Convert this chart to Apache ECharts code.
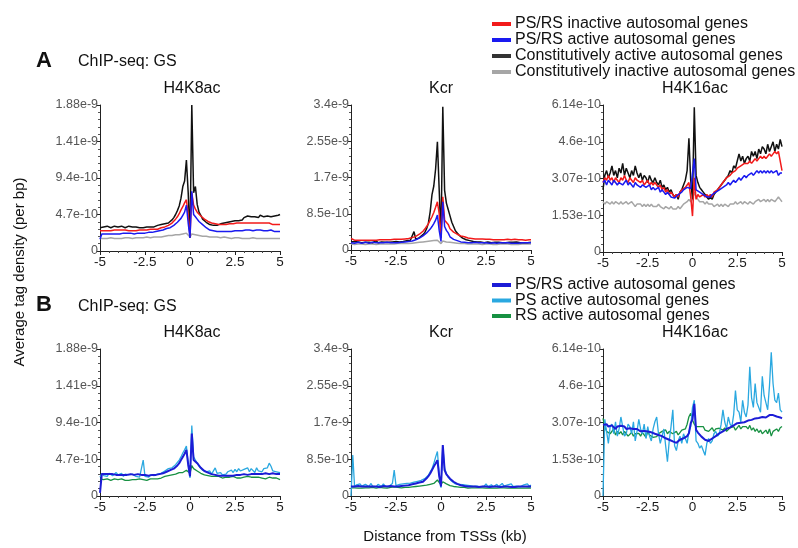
<!DOCTYPE html>
<html><head><meta charset="utf-8">
<script src="https://cdn.jsdelivr.net/npm/echarts@6/dist/echarts.min.js"></script>
<style>html,body{margin:0;padding:0;background:#fff}#c{width:798px;height:548px}</style>
</head><body><div id="c"></div>
<script>
// Distance from TSS (kb)
const X = [-5,-4.9,-4.8,-4.7,-4.6,-4.5,-4.4,-4.3,-4.2,-4.1,
-4,-3.9,-3.8,-3.7,-3.6,-3.5,-3.4,-3.3,-3.2,-3.1,
-3,-2.9,-2.8,-2.7,-2.6,-2.5,-2.4,-2.3,-2.2,-2.1,
-2,-1.9,-1.8,-1.7,-1.6,-1.5,-1.4,-1.3,-1.2,-1.1,
-1,-0.9,-0.8,-0.7,-0.6,-0.5,-0.4,-0.3,-0.2,-0.1,
0,0.1,0.2,0.3,0.4,0.5,0.6,0.7,0.8,0.9,
1,1.1,1.2,1.3,1.4,1.5,1.6,1.7,1.8,1.9,
2,2.1,2.2,2.3,2.4,2.5,2.6,2.7,2.8,2.9,
3,3.1,3.2,3.3,3.4,3.5,3.6,3.7,3.8,3.9,
4,4.1,4.2,4.3,4.4,4.5,4.6,4.7,4.8,4.9,5];
const xTickLabels = ['-5','-2.5','0','2.5','5'];
// Values in units of 1e-10 tags per bp
const ticksH4K8ac = ['0','4.7e-10','9.4e-10','1.41e-9','1.88e-9'];
const ticksKcr = ['0','8.5e-10','1.7e-9','2.55e-9','3.4e-9'];
const ticksH4K16ac = ['0','1.53e-10','3.07e-10','4.6e-10','6.14e-10'];

// ---- Panel A: H4K8ac ----
const A1_inactive = [2.6,2.7,2.6,2.7,2.6,2.7,2.6,2.6,2.7,2.6, 2.7,2.6,2.7,2.6,2.7,2.7,2.6,2.7,2.6,2.7, 2.6,2.7,2.7,2.6,2.7,2.8,2.7,2.7,2.8,2.7, 2.8,2.9,2.8,2.9,3.0,3.0,3.1,3.2,3.3,3.4, 3.6,3.8,4.1,4.4,4.8,5.3,5.7,6.2,6.6,4.6, 1.8,7.5,5.9,5.4,5.0,4.8,4.5,4.3,4.1,4.0, 3.8,3.7,3.6,3.5,3.5,3.4,3.4,3.3,3.4,3.3, 3.4,3.4,3.5,3.4,3.5,3.5,3.6,3.5,3.6,3.6, 3.6,3.7,3.6,3.7,3.6,3.7,3.6,3.7,3.6,3.5, 3.6,3.5,3.6,3.5,3.6,3.5,3.4,3.5,3.4,3.5, 3.4];
const A1_active = [1.5,2.2,2.3,2.2,2.3,2.2,2.3,2.2,2.3,2.2, 2.3,2.2,2.3,2.3,2.2,2.3,2.2,2.3,2.3,2.2, 2.3,2.3,2.4,2.3,2.4,2.3,2.4,2.4,2.5,2.4, 2.5,2.5,2.6,2.6,2.7,2.7,2.8,2.9,3.0,3.0, 3.1,3.3,3.5,3.7,3.9,4.2,4.6,5.0,5.9,3.6, 1.7,7.7,4.7,4.4,4.1,3.8,3.6,3.4,3.2,3.0, 2.8,2.7,2.7,2.6,2.6,2.5,2.5,2.5,2.4,2.5, 2.5,2.5,2.6,2.5,2.6,2.6,2.7,2.6,2.7,2.6, 2.7,2.7,2.6,2.7,2.7,2.6,2.7,2.7,2.6,2.7, 2.7,2.6,2.7,2.6,2.6,2.7,2.6,2.5,2.6,2.5, 2.5];
const A1_constActive = [3.0,3.2,3.1,3.0,3.2,3.1,3.0,3.1,3.2,3.0, 3.1,3.0,3.2,3.1,3.0,3.1,3.2,3.0,3.1,3.0, 3.1,3.2,3.0,3.1,3.0,3.2,3.1,3.0,3.1,3.2, 3.1,3.2,3.3,3.2,3.4,3.3,3.5,3.4,3.6,3.8, 4.0,4.3,4.7,5.2,5.8,6.8,8.3,9.0,11.7,7.5, 1.7,18.8,7.5,8.3,6.0,5.0,4.6,4.1,3.9,3.7, 3.5,3.4,3.5,3.3,3.4,3.3,3.4,3.5,3.4,3.6, 3.8,3.7,3.9,3.8,4.0,3.9,4.0,3.9,4.1,4.0, 4.3,4.2,4.5,4.3,4.4,4.6,4.4,4.5,4.3,4.6, 4.5,4.4,4.6,4.5,4.7,4.4,4.6,4.5,4.7,4.6, 4.7];
const A1_constInactive = [1.6,1.6,1.6,1.7,1.6,1.6,1.7,1.6,1.6,1.7, 1.6,1.7,1.6,1.7,1.7,1.6,1.7,1.7,1.6,1.7, 1.7,1.7,1.7,1.6,1.7,1.7,1.8,1.7,1.7,1.8, 1.8,1.8,1.8,1.9,1.8,1.9,1.9,1.9,2.0,1.9, 2.0,2.0,2.1,2.1,2.1,2.2,2.2,2.3,2.3,2.1, 1.8,2.2,2.2,2.1,2.1,2.0,2.0,1.9,1.9,1.9, 1.8,1.8,1.8,1.8,1.7,1.8,1.7,1.7,1.7,1.8, 1.7,1.7,1.7,1.6,1.7,1.7,1.6,1.7,1.7,1.6, 1.7,1.6,1.7,1.6,1.6,1.7,1.6,1.6,1.7,1.6, 1.6,1.6,1.7,1.6,1.6,1.6,1.7,1.6,1.6,1.6, 1.6];

// ---- Panel A: Kcr ----
const A2_inactive = [2.7,2.4,2.3,2.4,2.3,2.4,2.3,2.4,2.3,2.4, 2.3,2.4,2.3,2.4,2.3,2.4,2.4,2.3,2.4,2.4, 2.4,2.3,2.4,2.4,2.5,2.4,2.5,2.4,2.5,2.5, 2.6,2.6,2.7,2.8,2.9,3.0,3.2,3.4,3.7,4.0, 4.4,4.9,5.5,6.2,7.0,7.8,8.8,10.0,11.3,8.5, 2.8,12.5,7.0,6.6,6.0,5.0,4.6,4.2,3.9,3.7, 3.5,3.3,3.2,3.1,3.0,2.8,2.8,2.7,2.7,2.6, 2.6,2.6,2.5,2.6,2.5,2.5,2.6,2.5,2.5,2.4, 2.5,2.4,2.5,2.4,2.5,2.4,2.4,2.5,2.4,2.4, 2.4,2.5,2.4,2.4,2.3,2.4,2.4,2.3,2.4,2.4, 2.4];
const A2_active = [1.7,1.8,1.6,1.7,1.8,1.7,1.6,1.7,1.8,1.7, 1.6,1.7,1.8,1.7,1.7,1.6,1.7,1.8,1.7,1.7, 1.8,1.7,1.7,1.8,1.7,1.8,1.7,1.8,1.8,1.9, 1.9,1.9,2.0,2.1,2.1,2.3,2.4,2.6,2.8,3.0, 3.3,3.6,4.0,4.4,4.9,5.5,6.2,7.0,8.2,4.6, 2.0,11.3,5.5,4.6,4.0,3.1,2.8,2.5,2.3,2.2, 2.0,1.9,1.9,1.8,1.8,1.7,1.8,1.7,1.7,1.8, 1.7,1.7,1.8,1.7,1.6,1.7,1.7,1.6,1.7,1.7, 1.7,1.6,1.7,1.7,1.6,1.7,1.6,1.7,1.7,1.6, 1.7,1.6,1.7,1.6,1.7,1.7,1.6,1.7,1.6,1.7, 1.7];
const A2_constActive = [1.9,1.8,2.0,1.7,1.9,1.8,1.7,2.0,1.8,1.7, 1.8,1.9,1.7,1.8,2.2,1.7,1.8,1.9,1.7,1.8, 1.9,1.8,1.7,1.9,1.8,2.0,1.8,1.9,2.1,2.0, 2.0,2.2,2.1,2.3,2.2,4.3,2.5,2.7,2.9,3.2, 3.6,4.1,5.0,6.3,9.0,13.0,15.0,19.0,25.4,14.0, 3.0,33.6,14.0,11.0,9.5,8.0,6.5,5.5,4.5,4.0, 3.5,3.1,2.8,2.6,2.4,2.3,2.2,2.1,2.0,2.0, 1.9,1.8,1.9,1.8,1.7,1.8,1.9,1.8,1.7,1.8, 1.8,1.7,1.8,1.9,1.7,1.8,1.7,1.8,1.8,1.7, 1.8,1.7,1.9,1.8,1.7,1.8,1.7,1.8,1.7,1.8, 1.8];
const A2_constInactive = [1.4,1.4,1.3,1.4,1.4,1.3,1.4,1.4,1.3,1.4, 1.4,1.3,1.4,1.4,1.3,1.4,1.4,1.3,1.4,1.4, 1.4,1.4,1.4,1.5,1.4,1.4,1.5,1.4,1.5,1.5, 1.5,1.5,1.5,1.6,1.6,1.6,1.7,1.7,1.8,1.8, 1.9,1.9,2.0,2.0,2.1,2.1,2.2,2.2,2.3,2.0, 1.5,2.1,2.0,1.9,1.8,1.8,1.7,1.7,1.6,1.6, 1.6,1.5,1.5,1.5,1.5,1.4,1.5,1.4,1.4,1.4, 1.4,1.4,1.4,1.3,1.4,1.4,1.3,1.4,1.4,1.3, 1.4,1.3,1.4,1.4,1.3,1.4,1.3,1.4,1.4,1.3, 1.4,1.3,1.4,1.3,1.4,1.4,1.3,1.4,1.3,1.4, 1.4];

// ---- Panel A: H4K16ac ----
const A3_inactive = [2.9,3.1,3.0,3.2,3.0,3.1,2.9,3.1,3.0,2.9, 3.1,3.0,3.2,3.0,2.9,3.1,3.0,2.9,3.1,3.0, 3.0,2.9,3.0,2.8,2.9,3.0,2.8,2.9,2.8,2.9, 2.8,2.7,2.8,2.6,2.7,2.5,2.6,2.4,2.5,2.4, 2.3,2.4,2.3,2.5,2.6,2.6,2.7,2.8,2.9,2.3, 1.5,3.1,2.2,2.4,2.3,2.3,2.4,2.3,2.4,2.3, 2.4,2.3,2.5,2.5,2.6,2.7,2.8,2.9,3.0,3.1, 3.1,3.2,3.3,3.3,3.4,3.5,3.5,3.6,3.6,3.7, 3.7,3.7,3.8,3.7,3.8,3.9,3.8,3.9,4.0,3.9, 4.0,3.9,4.0,4.1,4.0,4.1,4.2,4.1,4.2,4.2, 3.4];
const A3_active = [2.9,3.0,2.8,3.0,2.9,2.8,3.0,2.9,2.8,2.9, 2.9,2.8,2.9,3.0,2.8,2.9,2.8,2.7,2.9,2.8, 2.8,2.7,2.8,2.8,2.7,2.7,2.8,2.6,2.7,2.6, 2.6,2.7,2.5,2.6,2.5,2.4,2.5,2.4,2.3,2.3, 2.25,2.3,2.4,2.4,2.5,2.6,2.6,2.7,2.7,2.65, 2.7,3.9,2.6,2.6,2.5,2.5,2.4,2.4,2.3,2.3, 2.3,2.4,2.4,2.5,2.5,2.6,2.6,2.7,2.7,2.8, 2.9,2.8,2.9,3.0,2.9,3.0,3.1,3.0,3.1,3.2, 3.1,3.2,3.2,3.3,3.2,3.3,3.4,3.3,3.4,3.3, 3.4,3.3,3.4,3.3,3.4,3.3,3.3,3.4,3.2,3.3, 3.3];
const A3_constActive = [2.6,3.2,3.4,3.1,3.3,3.6,3.2,3.4,3.1,3.5, 3.3,3.7,3.2,3.5,3.3,3.1,3.4,3.2,3.6,3.3, 3.1,3.3,3.0,3.2,3.1,2.9,3.2,3.0,2.9,3.1, 2.9,2.8,3.0,2.7,2.8,2.6,2.7,2.5,2.6,2.4, 2.3,2.4,2.2,2.5,2.6,2.8,3.0,3.4,4.75,3.0, 2.2,6.05,3.2,2.9,2.7,2.6,2.5,2.4,2.3,2.2, 2.3,2.2,2.4,2.5,2.6,2.6,2.8,2.9,3.0,3.1, 3.2,3.4,3.3,3.6,3.5,3.8,4.1,3.8,4.0,3.7, 3.9,4.0,3.8,4.2,4.0,4.2,3.9,4.3,4.1,4.4, 4.3,4.1,4.5,4.2,4.4,4.6,4.2,4.5,4.3,4.7, 4.4];
const A3_constInactive = [2.1,2.0,2.1,2.1,2.0,2.1,2.0,2.1,2.1,2.0, 2.1,2.0,2.0,2.1,2.0,2.0,2.1,2.0,1.9,2.0, 2.0,2.0,1.9,2.0,1.9,2.0,1.9,2.0,1.9,1.9, 1.9,2.0,1.9,1.9,1.8,1.9,1.9,1.8,1.9,1.8, 1.8,1.8,1.9,1.8,1.9,2.0,2.0,2.1,2.2,2.1, 2.2,2.5,2.3,2.2,2.1,2.1,2.1,2.0,2.1,2.0, 2.0,2.0,1.9,1.9,2.0,1.9,2.0,1.9,2.0,2.0, 1.9,2.0,2.0,2.0,2.1,2.0,2.0,2.1,2.0,2.1, 2.1,2.0,2.1,2.1,2.0,2.1,2.1,2.2,2.1,2.1, 2.2,2.1,2.2,2.1,2.2,2.2,2.1,2.2,2.3,2.2, 2.1];

// ---- Panel B: H4K8ac ----
const B1_psrs = [0.4,2.8,2.7,2.8,2.7,2.8,2.7,2.8,2.8,2.7, 2.8,2.7,2.8,2.7,2.8,2.7,2.7,2.8,2.7,2.7, 2.7,2.8,2.7,2.7,2.6,2.7,2.7,2.6,2.7,2.7, 2.7,2.7,2.8,2.8,2.9,2.9,3.0,3.1,3.2,3.3, 3.3,3.5,3.7,3.9,4.2,4.6,5.0,5.4,5.9,4.0, 2.5,8.0,4.6,4.4,4.2,3.9,3.6,3.4,3.2,3.1, 3.0,2.9,2.8,2.8,2.7,2.7,2.6,2.6,2.6,2.6, 2.6,2.6,2.6,2.7,2.6,2.7,2.7,2.7,2.7,2.8, 2.8,2.8,2.7,2.8,2.8,2.8,2.8,2.8,2.8,2.8, 2.8,2.8,2.9,2.8,2.8,2.8,2.9,2.8,2.8,2.8, 2.8];
const B1_ps = [2.4,2.9,2.6,2.8,2.5,2.9,2.7,2.6,2.8,3.0, 2.7,2.6,2.9,2.5,2.8,2.6,2.7,2.5,2.8,2.6, 2.5,2.7,2.4,2.6,4.6,2.5,2.6,2.4,2.7,2.5, 2.6,2.7,2.8,2.7,2.9,3.0,3.2,3.3,3.5,3.6, 3.6,3.8,4.0,4.2,4.6,5.0,5.5,5.9,6.4,4.2, 2.3,9.0,5.0,4.6,4.2,3.8,3.6,3.3,3.5,3.1, 3.0,3.2,2.8,3.0,3.6,2.9,2.8,3.0,2.7,2.9, 2.8,3.1,2.9,3.3,3.0,3.4,3.1,3.5,3.2,3.0, 3.4,3.2,3.6,3.1,3.5,3.3,3.0,3.6,3.2,3.4, 3.1,3.5,3.3,3.6,4.2,3.8,3.2,3.4,3.1,3.3, 3.0];
const B1_rs = [2.2,2.0,2.1,2.0,2.2,2.1,2.0,2.1,2.2,2.0, 2.1,2.0,2.2,2.1,2.0,2.1,2.0,2.2,2.1,2.0, 2.1,2.0,2.2,2.0,2.1,2.2,2.0,2.1,2.2,2.1, 2.2,2.3,2.2,2.4,2.3,2.4,2.5,2.4,2.6,2.5, 2.7,2.6,2.8,2.9,3.0,3.1,3.0,3.2,3.3,3.1, 2.9,3.9,3.5,3.3,3.2,3.0,2.9,2.9,2.7,2.8, 2.6,2.7,2.5,2.6,2.5,2.4,2.5,2.4,2.3,2.4, 2.4,2.3,2.4,2.3,2.5,2.4,2.3,2.4,2.3,2.4, 2.4,2.3,2.5,2.3,2.4,2.3,2.4,2.2,2.4,2.3, 2.3,2.4,2.2,2.3,2.4,2.2,2.3,2.2,2.3,2.2, 2.1];

// ---- Panel B: Kcr ----
const B2_psrs = [2.2,2.3,2.2,2.1,2.3,2.2,2.2,2.1,2.2,2.3, 2.2,2.1,2.2,2.3,2.2,2.2,2.1,2.2,2.3,2.2, 2.2,2.2,2.3,2.2,2.2,2.3,2.2,2.3,2.3,2.4, 2.4,2.5,2.5,2.6,2.7,2.8,2.9,3.0,3.1,3.3, 3.3,3.7,4.1,4.6,5.2,6.0,6.8,7.5,8.3,4.6, 2.2,11.8,6.0,5.0,4.6,4.0,3.6,3.3,3.0,2.8, 2.6,2.5,2.4,2.3,2.3,2.2,2.2,2.2,2.3,2.2, 2.2,2.1,2.2,2.2,2.1,2.2,2.2,2.1,2.2,2.2, 2.1,2.2,2.2,2.1,2.2,2.2,2.1,2.2,2.2,2.1, 2.2,2.1,2.2,2.2,2.1,2.2,2.1,2.2,2.1,2.2, 2.2];
const B2_ps = [0.0,9.5,2.0,2.6,2.2,2.8,2.3,2.1,2.7,2.4, 2.2,2.9,2.3,2.5,2.1,2.7,2.4,2.2,2.8,2.3, 2.6,2.2,2.5,2.9,6.0,2.4,2.2,2.7,2.5,2.8, 2.5,2.9,2.6,3.0,2.7,3.2,2.9,3.4,3.3,3.6, 3.5,4.0,4.4,4.8,5.6,6.3,7.5,9.0,10.3,5.0, 1.9,11.5,6.4,5.2,4.3,3.9,3.4,3.0,2.8,2.6, 2.7,2.3,2.6,2.2,2.5,2.1,2.4,2.6,2.2,2.5, 2.3,2.7,2.1,2.5,2.3,2.8,2.2,2.4,2.6,2.1, 2.4,2.7,2.2,2.5,2.9,2.3,2.1,2.6,2.4,2.8, 2.2,2.5,2.3,2.7,2.1,2.4,2.6,2.2,2.8,2.3, 2.5];
const B2_rs = [1.9,1.8,1.9,2.0,1.8,1.9,1.8,2.0,1.9,1.8, 1.9,1.8,2.0,1.9,1.8,1.9,2.0,1.8,1.9,1.9, 1.8,1.9,2.0,1.9,2.1,1.9,2.0,2.1,1.9,2.0, 2.0,2.1,2.0,2.2,2.1,2.3,2.2,2.4,2.3,2.5, 2.4,2.6,2.5,2.8,2.7,3.0,2.9,3.3,3.7,4.0, 2.6,3.3,2.9,2.8,2.6,2.4,2.3,2.2,2.1,2.1, 2.0,2.0,1.9,2.0,1.9,1.8,1.9,1.9,1.8,1.9, 1.8,1.9,1.8,1.9,1.8,1.8,1.9,1.8,1.9,1.8, 1.9,1.8,1.8,1.9,1.8,1.9,1.8,1.8,1.9,1.8, 1.8,1.9,1.8,1.8,1.9,1.8,1.9,1.8,1.8,1.9, 1.8];

// ---- Panel B: H4K16ac ----
const B3_psrs = [2.97,2.9,3.0,2.9,2.85,2.95,2.9,2.8,2.9,2.85, 2.93,2.85,2.9,2.8,2.85,2.83,2.9,2.8,2.75,2.8, 2.76,2.7,2.78,2.72,2.68,2.69,2.74,2.66,2.7,2.6, 2.62,2.55,2.6,2.5,2.45,2.41,2.45,2.35,2.3,2.28, 2.27,2.22,2.3,2.35,2.38,2.41,2.45,2.5,2.62,3.04, 3.2,3.85,2.76,2.65,2.6,2.48,2.4,2.35,2.27,2.3, 2.34,2.4,2.45,2.5,2.55,2.62,2.66,2.7,2.75,2.8, 2.83,2.87,2.9,2.95,2.98,3.04,3.0,3.06,3.1,3.08, 3.11,3.15,3.12,3.18,3.22,3.24,3.2,3.26,3.28,3.3, 3.31,3.28,3.35,3.38,3.4,3.38,3.45,3.32,3.4,3.28, 3.24];
const B3_ps = [0.0,3.2,2.7,2.2,2.9,3.0,2.6,3.1,2.5,2.8, 3.3,2.9,2.5,2.6,3.0,2.9,2.6,3.1,2.3,2.7, 3.2,2.8,2.6,3.0,2.4,2.9,2.5,2.3,2.8,3.1, 3.3,2.6,2.2,2.5,2.8,2.1,1.43,2.3,2.9,3.6, 2.1,1.9,2.3,2.5,2.2,2.6,2.4,2.2,2.7,2.9, 3.7,4.0,2.3,2.2,2.0,2.1,1.9,1.7,2.2,2.4, 2.2,2.3,2.6,2.7,2.5,2.6,3.0,3.6,3.1,2.8, 3.3,3.0,2.9,3.4,4.4,3.6,3.5,3.1,4.0,3.5, 3.3,3.8,5.4,4.1,3.7,4.7,3.9,3.9,3.5,5.0, 4.2,3.9,3.6,4.6,6.0,4.7,4.0,3.9,4.3,3.6, 3.5];
const B3_rs = [3.24,2.9,2.7,2.75,2.6,2.65,2.8,2.55,2.7,2.6, 2.69,2.55,2.7,2.6,2.5,2.55,2.65,2.5,2.6,2.55, 2.62,2.5,2.65,2.55,2.45,2.69,2.55,2.6,2.45,2.5, 2.48,2.6,2.55,2.7,2.65,2.76,2.6,2.7,2.65,2.6, 2.62,2.7,2.55,2.65,2.75,2.76,2.8,3.0,3.31,3.45, 3.17,3.0,2.9,2.85,2.9,2.83,2.9,2.75,2.8,2.7, 2.76,2.85,2.7,2.8,2.75,2.83,2.9,2.75,2.85,2.7, 2.76,2.85,2.8,2.9,2.75,2.83,2.95,2.8,2.9,2.85, 2.9,2.8,2.95,2.75,2.85,2.7,2.8,2.65,2.75,2.6, 2.62,2.75,2.6,2.8,2.5,2.7,2.65,2.8,2.7,2.85, 2.9];

const NAMES = {
  inact: 'PS/RS inactive autosomal genes',
  act: 'PS/RS active autosomal genes',
  cact: 'Constitutively active autosomal genes',
  cinact: 'Constitutively inactive autosomal genes',
  ps: 'PS active autosomal genes',
  rs: 'RS active autosomal genes'
};
const COL = {inact:'#f21a1a', act:'#1a1af0', cact:'#111111', cinact:'#a6a6a6', psrs:'#1c1cd6', ps:'#2aa8e0', rs:'#179142'};

const FONT = 'Liberation Sans, Arial, sans-serif';
const grids = [
  {left:100, top:105, width:180, height:146},
  {left:351, top:105, width:180, height:145},
  {left:603, top:105, width:179, height:147},
  {left:100, top:349, width:180, height:147},
  {left:351, top:349, width:180, height:147},
  {left:603, top:349, width:179, height:147}
];
const yDefs = [
  {max:18.8, iv:4.7, lab:ticksH4K8ac},
  {max:34, iv:8.5, lab:ticksKcr},
  {max:6.14, iv:1.535, lab:ticksH4K16ac}
];
const xAxes = grids.map((g,i)=>({
  type:'value', gridIndex:i, min:-5, max:5, interval:2.5,
  axisLine:{show:true, onZero:false, lineStyle:{color:'#222', width:1}},
  axisTick:{show:true, length:4, lineStyle:{color:'#222'}},
  minorTick:{show:true, splitNumber:5, length:2, lineStyle:{color:'#444'}},
  splitLine:{show:false},
  axisLabel:{fontSize:13.5, color:'#1a1a1a', margin:4, fontFamily:FONT,
    formatter:(v)=>xTickLabels[Math.round((v+5)/2.5)]}
}));
const yAxes = grids.map((g,i)=>{
  const d = yDefs[i%3];
  return {type:'value', gridIndex:i, min:0, max:d.max, interval:d.iv,
    axisLine:{show:true, onZero:false, lineStyle:{color:'#222', width:1}},
    axisTick:{show:true, length:3, lineStyle:{color:'#222'}},
    minorTick:{show:true, splitNumber:5, length:2, lineStyle:{color:'#555'}},
    splitLine:{show:false},
    axisLabel:{fontSize:12.5, color:'#555', margin:2, fontFamily:FONT,
      formatter:(v)=>d.lab[Math.round(v/d.iv)]}};
});
function pairs(ys){ return X.map((x,i)=>[x, ys[i]]); }
function line(name, data, gi, color, w){
  return {type:'line', name, data:pairs(data), xAxisIndex:gi, yAxisIndex:gi,
    showSymbol:false, symbol:'none', clip:true, animation:false,
    lineStyle:{color, width:w}, itemStyle:{color}};
}
const series = [];
const Apanels = [
  [A1_inactive, A1_active, A1_constActive, A1_constInactive],
  [A2_inactive, A2_active, A2_constActive, A2_constInactive],
  [A3_inactive, A3_active, A3_constActive, A3_constInactive]
];
Apanels.forEach((p,i)=>{
  series.push(line(NAMES.cinact, p[3], i, COL.cinact, 1.5));
  series.push(line(NAMES.cact, p[2], i, COL.cact, 1.5));
  series.push(line(NAMES.inact, p[0], i, COL.inact, 1.5));
  series.push(line(NAMES.act, p[1], i, COL.act, 1.5));
});
const Bpanels = [[B1_psrs,B1_ps,B1_rs],[B2_psrs,B2_ps,B2_rs],[B3_psrs,B3_ps,B3_rs]];
Bpanels.forEach((p,i)=>{
  series.push(line(NAMES.rs, p[2], i+3, COL.rs, 1.3));
  series.push(line(NAMES.ps, p[1], i+3, COL.ps, 1.3));
  series.push(line(NAMES.act, p[0], i+3, COL.psrs, 2));
});

const legendCommon = {orient:'vertical', left:492, padding:0, icon:'rect', itemWidth:19, itemHeight:4,
  itemGap:0, selectedMode:false, textStyle:{fontSize:16, lineHeight:16, color:'#111', fontFamily:FONT, padding:[0,0,0,-1]}};
const txt = (text, x, y, size, opts={}) => ({type:'text', x, y, silent:true,
  style:Object.assign({text, fill:'#111', font:(opts.bold?'bold ':'')+size+'px '+FONT,
  textAlign:opts.align||'center', textVerticalAlign:'middle'}, opts.style||{}), rotation:opts.rot||0});

const option = {
  animation:false,
  grid:grids,
  xAxis:xAxes, yAxis:yAxes, series,
  legend:[
    Object.assign({}, legendCommon, {top:16, data:[
      {name:NAMES.inact, itemStyle:{color:COL.inact}},
      {name:NAMES.act, itemStyle:{color:COL.act}},
      {name:NAMES.cact, itemStyle:{color:'#333'}},
      {name:NAMES.cinact, itemStyle:{color:COL.cinact}}]}),
    Object.assign({}, legendCommon, {top:277, itemGap:-0.5, data:[
      {name:NAMES.act, itemStyle:{color:COL.psrs}},
      {name:NAMES.ps, itemStyle:{color:COL.ps}},
      {name:NAMES.rs, itemStyle:{color:COL.rs}}]})
  ],
  graphic:[
    txt('A', 36, 61, 22, {bold:true, align:'left'}),
    txt('ChIP-seq: GS', 78, 62, 16, {align:'left'}),
    txt('B', 36, 305, 22, {bold:true, align:'left'}),
    txt('ChIP-seq: GS', 78, 307, 16, {align:'left'}),
    txt('H4K8ac', 192, 89, 16), txt('Kcr', 441, 89, 16), txt('H4K16ac', 695, 89, 16),
    txt('H4K8ac', 192, 333, 16), txt('Kcr', 441, 333, 16), txt('H4K16ac', 695, 333, 16),
    txt('Distance from TSSs (kb)', 445, 537, 15),
    txt('Average tag density (per bp)', 20, 272, 15, {rot:Math.PI/2})
  ]
};
const chart = echarts.init(document.getElementById('c'), null, {renderer:'canvas'});
chart.setOption(option);
</script></body></html>
